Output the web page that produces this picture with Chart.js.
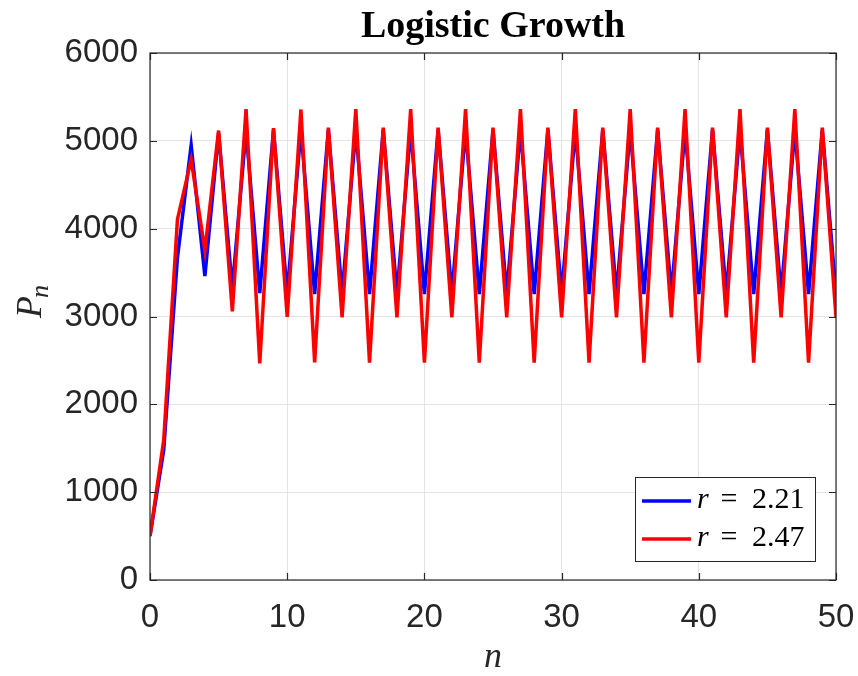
<!DOCTYPE html>
<html>
<head>
<meta charset="utf-8">
<script src="https://cdn.jsdelivr.net/npm/chart.js@4.4.1/dist/chart.umd.min.js"></script>
<style>
  html, body { margin: 0; padding: 0; background: #fff; }
  canvas { display: block; }
</style>
</head>
<body>
<canvas id="chart" width="858" height="676"></canvas>
<script>
const nValues = [0, 1, 2, 3, 4, 5, 6, 7, 8, 9,
  10, 11, 12, 13, 14, 15, 16, 17, 18, 19,
  20, 21, 22, 23, 24, 25, 26, 27, 28, 29,
  30, 31, 32, 33, 34, 35, 36, 37, 38, 39,
  40, 41, 42, 43, 44, 45, 46, 47, 48, 49,
  50];

// r = 2.21
const popLow = [500, 1480, 3670, 4950, 3460, 5090, 3320, 5120, 3265, 5125,
  3257, 5127, 3256, 5127, 3256, 5127, 3256, 5127, 3256, 5127,
  3256, 5127, 3256, 5127, 3256, 5127, 3256, 5127, 3256, 5127,
  3256, 5127, 3256, 5127, 3256, 5127, 3256, 5127, 3256, 5127,
  3256, 5127, 3256, 5127, 3256, 5127, 3256, 5127, 3256, 5127,
  3256];

// r = 2.47
const popHigh = [500, 1594, 4105, 4785, 3752, 5117, 3058, 5362, 2467, 5144,
  2996, 5357, 2478, 5150, 2990, 5360, 2475, 5150, 2990, 5360,
  2475, 5150, 2990, 5360, 2475, 5150, 2990, 5360, 2475, 5150,
  2990, 5360, 2475, 5150, 2990, 5360, 2475, 5150, 2990, 5360,
  2475, 5150, 2990, 5360, 2475, 5150, 2990, 5360, 2475, 5150,
  2990];

const rValues = ['2.21', '2.47'];
const lineColors = ['#0000ff', '#ff0000'];

const axisColor = '#262626';
const tickFont = '"Liberation Sans", Arial, sans-serif';
const mathFont = '"Liberation Serif", "Times New Roman", serif';

const toPoints = vals => nValues.map((n, i) => ({ x: n, y: vals[i] }));

// box, inward ticks, titles and legend, drawn like the MATLAB figure
const frame = {
  id: 'frame',
  afterDraw(chart) {
    const { ctx, chartArea: a, scales } = chart;
    const tl = 7;
    ctx.save();
    ctx.strokeStyle = axisColor;
    ctx.lineWidth = 1.2;
    ctx.beginPath();
    scales.x.ticks.forEach(t => {
      const px = Math.round(scales.x.getPixelForValue(t.value)) + 0.5;
      ctx.moveTo(px, a.bottom); ctx.lineTo(px, a.bottom - tl);
      ctx.moveTo(px, a.top); ctx.lineTo(px, a.top + tl);
    });
    scales.y.ticks.forEach(t => {
      const py = Math.round(scales.y.getPixelForValue(t.value)) + 0.5;
      ctx.moveTo(a.left, py); ctx.lineTo(a.left + tl, py);
      ctx.moveTo(a.right, py); ctx.lineTo(a.right - tl, py);
    });
    ctx.stroke();
    ctx.strokeRect(a.left, a.top, a.right - a.left, a.bottom - a.top);

    // title
    ctx.fillStyle = '#000';
    ctx.textAlign = 'center';
    ctx.textBaseline = 'alphabetic';
    ctx.font = 'bold 38px ' + mathFont;
    ctx.fillText('Logistic Growth', (a.left + a.right) / 2, 37);

    // x label
    ctx.fillStyle = axisColor;
    ctx.font = 'italic 36px ' + mathFont;
    ctx.fillText('n', (a.left + a.right) / 2, 667);

    // y label P_n
    ctx.save();
    ctx.translate(41, 318);
    ctx.rotate(-Math.PI / 2);
    ctx.textAlign = 'left';
    ctx.font = 'italic 36px ' + mathFont;
    ctx.fillText('P', 0, 0);
    const pw = ctx.measureText('P').width;
    ctx.font = 'italic 26px ' + mathFont;
    ctx.fillText('n', pw - 2, 7);
    ctx.restore();

    // legend
    const bx = 635, by = 477, bw = 180, bh = 84;
    ctx.fillStyle = '#fff';
    ctx.fillRect(bx, by, bw, bh);
    ctx.lineWidth = 1;
    ctx.strokeStyle = axisColor;
    ctx.strokeRect(bx + 0.5, by + 0.5, bw, bh);
    rValues.forEach((r, i) => {
      const ly = by + 24 + i * 38;
      ctx.strokeStyle = lineColors[i];
      ctx.lineWidth = 3.5;
      ctx.beginPath();
      ctx.moveTo(642, ly); ctx.lineTo(691, ly);
      ctx.stroke();
      ctx.fillStyle = '#000';
      ctx.textBaseline = 'alphabetic';
      ctx.textAlign = 'left';
      ctx.font = 'italic 30px ' + mathFont;
      ctx.fillText('r', 697, ly + 7);
      ctx.font = '30px ' + mathFont;
      ctx.textAlign = 'center';
      ctx.fillText('=', 729, ly + 7);
      ctx.textAlign = 'left';
      ctx.fillText(r, 752, ly + 7);
    });
    ctx.restore();
  }
};

const ctx = document.getElementById('chart').getContext('2d');
const chart = new Chart(ctx, {
  type: 'line',
  plugins: [frame],
  data: {
    datasets: [{
      label: 'r = ' + rValues[0],
      data: toPoints(popLow),
      borderColor: lineColors[0],
      borderWidth: 3.5,
      pointRadius: 0,
      tension: 0,
      order: 2
    }, {
      label: 'r = ' + rValues[1],
      data: toPoints(popHigh),
      borderColor: lineColors[1],
      borderWidth: 3.5,
      pointRadius: 0,
      tension: 0,
      order: 1
    }]
  },
  options: {
    responsive: false,
    animation: false,
    layout: { padding: { left: 0, right: 22, top: 53, bottom: 0 } },
    plugins: {
      legend: { display: false },
      tooltip: { enabled: false },
      title: { display: false }
    },
    scales: {
      x: {
        type: 'linear',
        min: 0,
        max: 50,
        ticks: {
          stepSize: 10,
          color: axisColor,
          font: { family: tickFont, size: 33 },
          padding: 18,
          maxRotation: 0,
          callback: v => String(v)
        },
        grid: { color: '#e3e3e3', drawTicks: false },
        border: { display: false },
        afterFit: s => { s.height = 96; s.paddingLeft = 0; s.paddingRight = 0; }
      },
      y: {
        min: 0,
        max: 6000,
        ticks: {
          stepSize: 1000,
          color: axisColor,
          font: { family: tickFont, size: 33 },
          padding: 12,
          callback: v => String(v)
        },
        grid: { color: '#e3e3e3', drawTicks: false },
        border: { display: false },
        afterFit: s => { s.width = 150; s.paddingTop = 0; s.paddingBottom = 0; }
      }
    }
  }
});
</script>
</body>
</html>
